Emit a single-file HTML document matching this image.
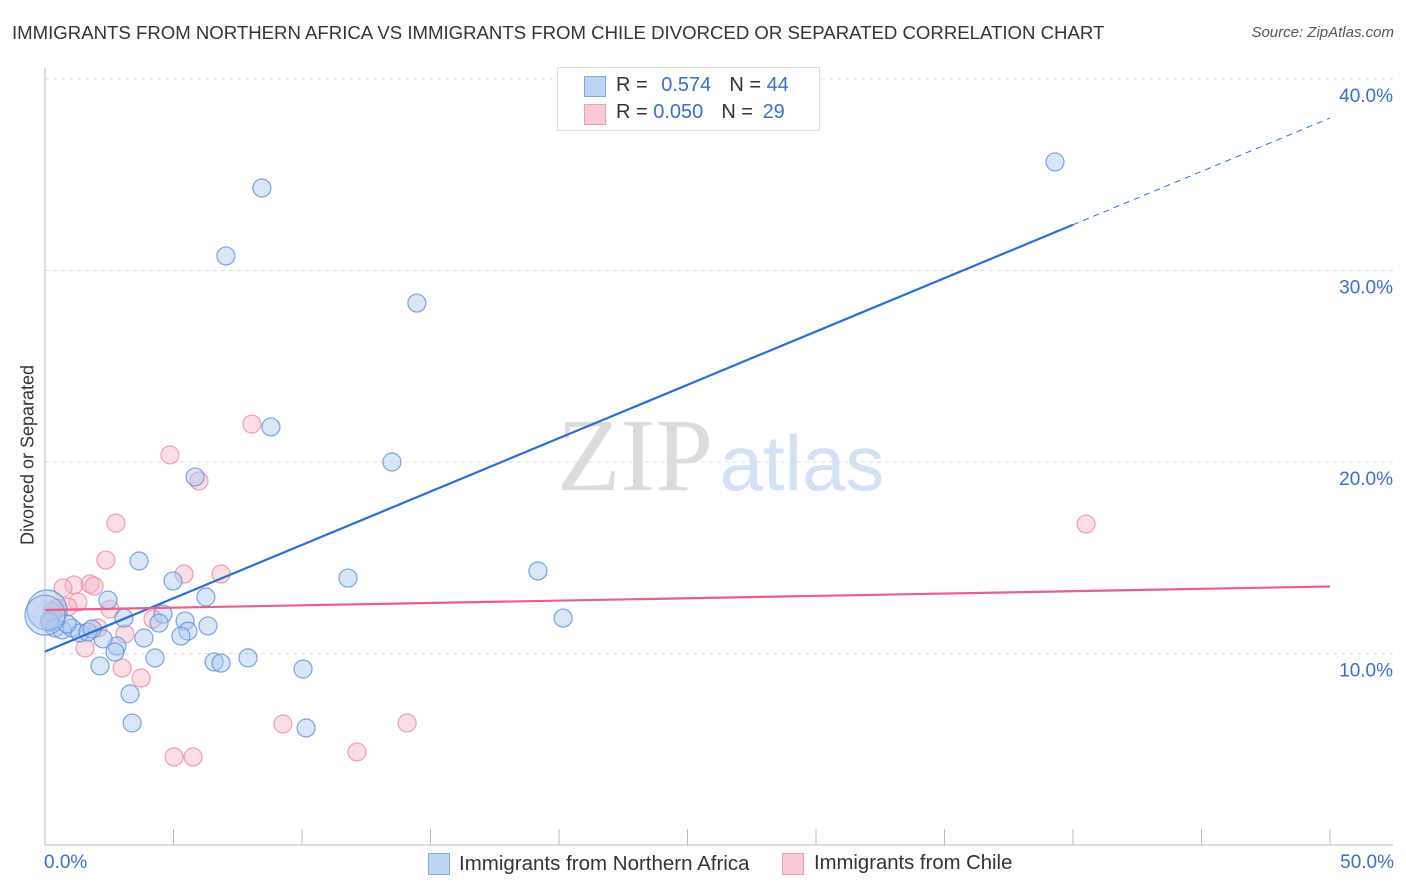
<!DOCTYPE html>
<html><head><meta charset="utf-8">
<style>
body{margin:0;background:#fff;font-family:"Liberation Sans",sans-serif;}
#wrap{position:relative;width:1406px;height:892px;overflow:hidden;}
.t{position:absolute;white-space:nowrap;}
</style></head>
<body>
<div id="wrap">
<div class="t" style="left:12px;top:22px;font-size:18.6px;color:#333;">IMMIGRANTS FROM NORTHERN AFRICA VS IMMIGRANTS FROM CHILE DIVORCED OR SEPARATED CORRELATION CHART</div>
<div class="t" style="right:12px;top:24px;font-size:15px;color:#555;font-style:italic;">Source: ZipAtlas.com</div>
<div class="t" style="left:28px;top:455px;font-size:18px;color:#333;transform:translate(-50%,-50%) rotate(-90deg);">Divorced or Separated</div>
<svg id="plot" width="1406" height="892" style="position:absolute;left:0;top:0"></svg>
<div style="position:absolute;left:557px;top:67px;width:261px;height:62px;border:1px solid #ddd;background:#fff;font-size:20px;">
<div style="position:absolute;left:26px;top:8px;width:20px;height:19px;background:#bcd4f5;border:1px solid #7fa8e3;"></div>
<div class="t" style="left:58px;top:6px;color:#333;">R = <span style="color:#3a6fc9;margin-left:8px">0.574</span><span style="margin-left:18px">N = </span><span style="color:#3a6fc9">44</span></div>
<div style="position:absolute;left:26px;top:36px;width:20px;height:19px;background:#f9c9d6;border:1px solid #eba0b6;"></div>
<div class="t" style="left:58px;top:33px;color:#333;">R = <span style="color:#3a6fc9">0.050</span><span style="margin-left:18px">N = </span><span style="color:#3a6fc9;margin-left:4px">29</span></div>
</div>
<div style="position:absolute;left:428px;top:853px;">
<div style="position:absolute;left:0;top:0;width:20px;height:20px;background:#bcd4f5;border:1px solid #7fa8e3;"></div>
<div class="t" style="left:31px;top:-1px;font-size:20.5px;color:#333;">Immigrants from Northern Africa</div></div>
<div style="position:absolute;left:782px;top:853px;">
<div style="position:absolute;left:0;top:0;width:20px;height:20px;background:#f9c9d6;border:1px solid #eba0b6;"></div>
<div class="t" style="left:32px;top:-1px;font-size:20.3px;color:#333;">Immigrants from Chile</div></div>
<div class="t" style="left:44px;top:852px;font-size:19px;color:#3a6fc9;">0.0%</div>
<div class="t" style="right:12px;top:852px;font-size:19px;color:#3a6fc9;">50.0%</div>
</div>
<script>
const blueX=[8.44,7.04,14.47,39.30,8.79,13.50,5.84,3.66,11.79,19.18,20.16,4.98,6.26,2.45,3.07,4.59,4.44,5.45,5.56,5.29,6.34,3.85,2.80,2.26,4.28,2.14,6.58,6.85,7.90,10.04,3.31,3.39,10.16,0.39,0.66,1.05,1.36,1.67,1.83,0.19,0.86,0.08,2.72,0.0];
const blueY=[34.31,30.76,28.30,35.67,21.83,20.00,19.22,14.83,13.94,14.31,11.85,13.79,12.95,12.79,11.85,12.06,11.59,11.70,11.17,10.91,11.44,10.81,10.39,10.76,9.77,9.35,9.56,9.50,9.77,9.19,7.89,6.37,6.11,11.33,11.23,11.33,11.07,11.12,11.28,11.64,11.54,12.27,10.08,12.0];
const pinkX=[8.05,4.86,5.99,2.76,2.37,5.41,6.85,1.75,1.91,1.13,0.70,1.28,0.89,2.53,0.47,0.27,4.20,3.11,2.06,1.56,3.00,3.74,9.26,14.09,12.14,5.02,5.76,40.51,0.19];
const pinkY=[21.98,20.37,19.01,16.81,14.88,14.15,14.15,13.63,13.52,13.58,13.42,12.69,12.43,12.32,12.38,12.17,11.80,11.02,11.33,10.29,9.24,8.72,6.32,6.37,4.86,4.60,4.60,16.76,11.75];
const yTicks=[10,20,30,40];
const xTicks=[5,10,15,20,25,30,35,40,45,50];
const blueTrend=[10.1,37.96];
const pinkTrend=[12.27,13.5];
const sx=v=>45+v*25.7, sy=v=>845-v*19.15;
const svg=document.getElementById('plot');const NS='http://www.w3.org/2000/svg';
function mk(tag,attrs){const e=document.createElementNS(NS,tag);for(const k in attrs)e.setAttribute(k,attrs[k]);svg.appendChild(e);return e;}
const w1=mk('text',{x:635,y:490,'text-anchor':'middle','font-size':104,fill:'#dcdcdc','font-family':'Liberation Serif'});w1.textContent='ZIP';


const w2=mk('text',{x:802,y:490,'text-anchor':'middle','font-size':78,fill:'#d3e1f5','font-family':'Liberation Sans'});w2.textContent='atlas';


yTicks.forEach(t=>{
 const g=mk('line',{x1:45,x2:1393,y1:sy(t),y2:sy(t),stroke:'#ddd','stroke-dasharray':'4,4'});
 
 
 const tx=mk('text',{x:1393,y:sy(t)+23,'text-anchor':'end','font-size':19,fill:'#3a6fc9','font-family':'Liberation Sans'});
 tx.textContent=t.toFixed(1)+'%';
 
 
});
const ax=mk('line',{x1:45,x2:1393,y1:845,y2:845,stroke:'#bbb'});


const ay=mk('line',{x1:45,x2:45,y1:68,y2:845,stroke:'#bbb'});


xTicks.forEach(t=>{const l=mk('line',{x1:sx(t),x2:sx(t),y1:829,y2:845,stroke:'#bbb'});
 
 });
function dots(X,Y,fill,stroke,name){X.forEach((x,i)=>{
 const big=(x<0.1&&Math.abs(Y[i]-12.1)<0.3);
 const c=mk('circle',{cx:sx(x),cy:sy(Y[i]),r:big?20:9,fill:fill,'fill-opacity':0.45,stroke:stroke,'stroke-width':1.2,'stroke-opacity':0.8});
 
 });}
dots(pinkX,pinkY,'#f6b3c7','#e88aa6','point-chile');
dots(blueX,blueY,'#a9c8f0','#5b8fd9','point-northern-africa');
const xe=40.0; const ye=blueTrend[0]+(blueTrend[1]-blueTrend[0])*xe/50;
const bl=mk('line',{x1:sx(0),y1:sy(blueTrend[0]),x2:sx(xe),y2:sy(ye),stroke:'#2a6fd6','stroke-width':2.2});


const bd=mk('line',{x1:sx(xe),y1:sy(ye),x2:sx(50),y2:sy(blueTrend[1]),stroke:'#2a6fd6','stroke-width':1,'stroke-dasharray':'6,5'});


const pl=mk('line',{x1:sx(0),y1:sy(pinkTrend[0]),x2:sx(50),y2:sy(pinkTrend[1]),stroke:'#e8608a','stroke-width':2.2});


</script>
</body></html>
